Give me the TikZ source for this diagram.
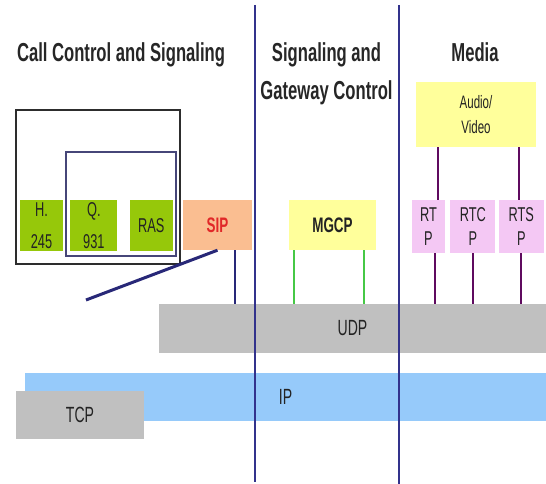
\documentclass[tikz,border=0pt]{standalone}
\usepackage{fontspec}
\setmainfont{Liberation Sans}
\newfontfamily\narrowsans[FakeStretch=0.64]{Liberation Sans}
\usetikzlibrary{positioning}
\definecolor{dividerblue}{RGB}{50,50,140}
\definecolor{linknavy}{RGB}{40,40,120}
\definecolor{framegray}{RGB}{45,45,45}
\definecolor{frameblue}{RGB}{70,70,120}
\definecolor{textgray}{RGB}{35,35,35}
\definecolor{h323green}{RGB}{150,200,10}
\definecolor{sipsalmon}{RGB}{250,190,145}
\definecolor{sipred}{RGB}{225,40,40}
\definecolor{paleyellow}{RGB}{255,255,155}
\definecolor{mediapink}{RGB}{244,200,244}
\definecolor{mediapurple}{RGB}{95,10,95}
\definecolor{mgcpgreen}{RGB}{70,200,70}
\definecolor{layergray}{RGB}{192,192,192}
\definecolor{ipblue}{RGB}{150,202,250}

\begin{document}
\begin{tikzpicture}[x=1pt,y=-1pt,
    title/.style={font=\narrowsans\bfseries\fontsize{26}{38}\selectfont,text=black!85,align=center,anchor=base,inner sep=0pt},
    protobox/.style={inner sep=0pt,minimum height=51pt,align=center,text=textgray,font=\narrowsans\fontsize{20}{32}\selectfont},
    h323box/.style={protobox,fill=h323green,minimum width=43pt},
    mediabox/.style={protobox,fill=mediapink,minimum height=53pt,minimum width=45pt,font=\narrowsans\fontsize{20}{24}\selectfont},
    layer/.style={inner sep=0pt,minimum height=48pt,text=textgray,font=\narrowsans\fontsize{22}{24}\selectfont},
    divider/.style={dividerblue,line width=2pt},
    link/.style={line width=1.8pt}]
  \useasboundingbox (0,0) rectangle (546,484);
  % column headings
  \node[title] (cctitle) at (121,62) {Call Control and Signaling};
  \node[title] (gwtitle) at (326.5,100) {Signaling and\\Gateway Control};
  \node[title] (mediatitle) at (475,62) {Media};
  % transport layers
  \node[layer,fill=ipblue,minimum width=521pt] (ip) at (285.5,397) {IP};
  \node[layer,fill=layergray,minimum width=128pt] (tcp) at (80,415) {TCP};
  \node[layer,fill=layergray,minimum width=387pt,minimum height=49pt] (udp) at (352.5,328.5) {UDP};
  % call control
  \node[h323box] (h245) at (41.5,225.5) {H.\\245};
  \node[h323box,minimum width=47pt,right=7pt of h245] (q931) {Q.\\931};
  \node[h323box,right=12pt of q931] (ras) {RAS};
  \node[protobox,fill=sipsalmon,minimum width=69pt,minimum height=50pt,font=\narrowsans\bfseries\fontsize{21}{24}\selectfont,text=sipred] (sip) at (217.5,225) {SIP};
  \draw[framegray,line width=1.8pt] (16,110) rectangle (180,264);
  \draw[frameblue,line width=1.3pt] (66,152) rectangle (176,256);
  \coordinate (tcpend) at (86,300);
  \draw[linknavy,line width=3pt] (sip.south) -- (tcpend);
  \draw[link,linknavy] ([xshift=17.5pt]sip.south) -- ([xshift=17.5pt]sip.south |- udp.north);
  % gateway control
  \node[protobox,fill=paleyellow,minimum width=87pt,minimum height=50pt,font=\narrowsans\bfseries\fontsize{21}{24}\selectfont] (mgcp) at (332.5,225) {MGCP};
  \draw[link,mgcpgreen] ([xshift=-38.5pt]mgcp.south) -- ([xshift=-38.5pt]mgcp.south |- udp.north);
  \draw[link,mgcpgreen] ([xshift=31.5pt]mgcp.south) -- ([xshift=31.5pt]mgcp.south |- udp.north);
  % media
  \node[protobox,fill=paleyellow,minimum width=120pt,minimum height=65pt,font=\narrowsans\fontsize{18}{25}\selectfont] (av) at (476,114.5) {Audio/\\Video};
  \node[mediabox,minimum width=33pt] (rtp) at (428.5,226.5) {RT\\P};
  \node[mediabox,right=5pt of rtp] (rtcp) {RTC\\P};
  \node[mediabox,right=3pt of rtcp] (rtsp) {RTS\\P};
  \draw[link,mediapurple] ([xshift=9.5pt]rtp.north |- av.south) -- ([xshift=9.5pt]rtp.north);
  \draw[link,mediapurple] ([xshift=-2.5pt]rtsp.north |- av.south) -- ([xshift=-2.5pt]rtsp.north);
  \draw[link,mediapurple] ([xshift=6.5pt]rtp.south) -- ([xshift=6.5pt]rtp.south |- udp.north);
  \draw[link,mediapurple] (rtcp.south) -- (rtcp.south |- udp.north);
  \draw[link,mediapurple] (rtsp.south) -- (rtsp.south |- udp.north);
  % column dividers
  \coordinate (divatop) at (254.5,5);
  \coordinate (divabot) at (254.5,482);
  \coordinate (divbtop) at (398.5,5);
  \coordinate (divbbot) at (398.5,484);
  \draw[divider] (divatop) -- (divabot);
  \draw[divider] (divbtop) -- (divbbot);
\end{tikzpicture}
\end{document}
